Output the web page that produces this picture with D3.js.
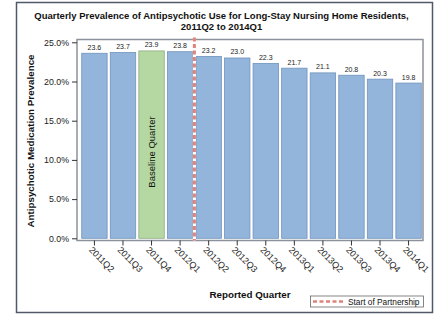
<!DOCTYPE html>
<html><head><meta charset="utf-8">
<script src="https://cdn.jsdelivr.net/npm/d3@7"></script>
<style>body{margin:0;background:#fff}svg{display:block}svg text{font-family:"Liberation Sans",Arial,sans-serif}</style>
</head><body><svg id="c" width="448" height="325"></svg>
<script>
const quarters = ["2011Q2","2011Q3","2011Q4","2012Q1","2012Q2","2012Q3","2012Q4","2013Q1","2013Q2","2013Q3","2013Q4","2014Q1"];
const prevalence = [23.6,23.7,23.9,23.8,23.2,23.0,22.3,21.7,21.1,20.8,20.3,19.8];
const baselineQuarter = "2011Q4";
const partnershipAfter = "2012Q1";
const yTicks = [0,5,10,15,20,25];

const FF = "'Liberation Sans',Arial,sans-serif";
const svg = d3.select("#c");
// outer frame
svg.append("rect").attr("x",16.5).attr("y",2.5).attr("width",416).attr("height",310)
  .attr("fill","#fff").attr("stroke","#50586a").attr("stroke-width",1.5);

const L=77, R=423, T=39.5, B=240.5;
const x = d3.scaleBand().domain(quarters).range([80,423]).paddingInner(0.11).paddingOuter(0.06);
const y = d3.scaleLinear().domain([0,25]).range([238.3,42.3]);

// title
const title = svg.append("text").attr("x",221.5).attr("y",18.7).attr("text-anchor","middle")
  .attr("font-size",9.5).attr("font-weight","bold").attr("fill","#111");
title.append("tspan").attr("x",221.5).text("Quarterly Prevalence of Antipsychotic Use for Long-Stay Nursing Home Residents,");
title.append("tspan").attr("x",221.5).attr("dy",11.3).text("2011Q2 to 2014Q1");

// bars
svg.append("g").selectAll("rect").data(quarters).join("rect")
  .attr("x",d=>x(d)).attr("width",x.bandwidth())
  .attr("y",(d,i)=>y(prevalence[i])).attr("height",(d,i)=>y(0)-y(prevalence[i]))
  .attr("fill",d=>d===baselineQuarter?"#b5d8a3":"#93b5dc")
  .attr("stroke",d=>d===baselineQuarter?"#8eab80":"#7193bb").attr("stroke-width",0.8);

// value labels
svg.append("g").selectAll("text").data(quarters).join("text")
  .attr("x",d=>x(d)+x.bandwidth()/2).attr("y",(d,i)=>y(prevalence[i])-3.5)
  .attr("text-anchor","middle").attr("font-size",7).attr("fill","#222")
  .text((d,i)=>prevalence[i].toFixed(1));

// baseline text
const bx = x(baselineQuarter)+x.bandwidth()/2;
svg.append("text").attr("transform",`translate(${bx+3.5},152) rotate(-90)`)
  .attr("text-anchor","middle").attr("font-size",9.5).attr("fill","#111").text("Baseline Quarter");

// plot frame
svg.append("rect").attr("x",L).attr("y",T).attr("width",R-L).attr("height",B-T)
  .attr("fill","none").attr("stroke","#8c919c").attr("stroke-width",1.5);

// reference line
const i1 = quarters.indexOf(partnershipAfter);
const rx = (x(quarters[i1])+x.bandwidth()+x(quarters[i1+1]))/2;
svg.append("line").attr("x1",rx).attr("x2",rx).attr("y1",T-2).attr("y2",B)
  .attr("stroke","#fff").attr("stroke-width",3);
svg.append("line").attr("x1",rx).attr("x2",rx).attr("y1",T-2).attr("y2",B)
  .attr("stroke","#e0837a").attr("stroke-width",3).attr("stroke-dasharray","4,2.5");

// y axis
const ya = svg.append("g").attr("transform",`translate(${L},0)`)
  .call(d3.axisLeft(y).tickValues(yTicks).tickFormat(d=>d.toFixed(1)+"%").tickSize(5).tickPadding(3));
ya.attr("font-family",FF).attr("font-size",8.8);
ya.select(".domain").remove();
ya.selectAll("line").attr("stroke","#333");
ya.selectAll("text").attr("fill","#222");

// x axis
const xa = svg.append("g").attr("transform",`translate(0,${B})`)
  .call(d3.axisBottom(x).tickSize(5).tickPadding(2));
xa.attr("font-family",FF).attr("font-size",9);
xa.select(".domain").remove();
xa.selectAll("line").attr("stroke","#333");
xa.selectAll("text").attr("fill","#222")
  .attr("text-anchor","start").attr("dy",0).attr("y",0).attr("transform","translate(-6,10) rotate(45)");

// axis titles
svg.append("text").attr("transform","translate(34,141) rotate(-90)").attr("text-anchor","middle")
  .attr("font-size",9.8).attr("font-weight","bold").attr("fill","#111").text("Antipsychotic Medication Prevalence");
svg.append("text").attr("x",250).attr("y",298).attr("text-anchor","middle")
  .attr("font-size",9.8).attr("font-weight","bold").attr("fill","#111").text("Reported Quarter");

// legend
svg.append("rect").attr("x",310.5).attr("y",296).attr("width",113).attr("height",11)
  .attr("fill","#fff").attr("stroke","#666").attr("stroke-width",0.8);
svg.append("line").attr("x1",313).attr("x2",344).attr("y1",301.5).attr("y2",301.5)
  .attr("stroke","#e0837a").attr("stroke-width",2.5).attr("stroke-dasharray","4,2.5");
svg.append("text").attr("x",348).attr("y",304.5).attr("font-size",8.3).attr("fill","#111").text("Start of Partnership");
</script></body></html>
